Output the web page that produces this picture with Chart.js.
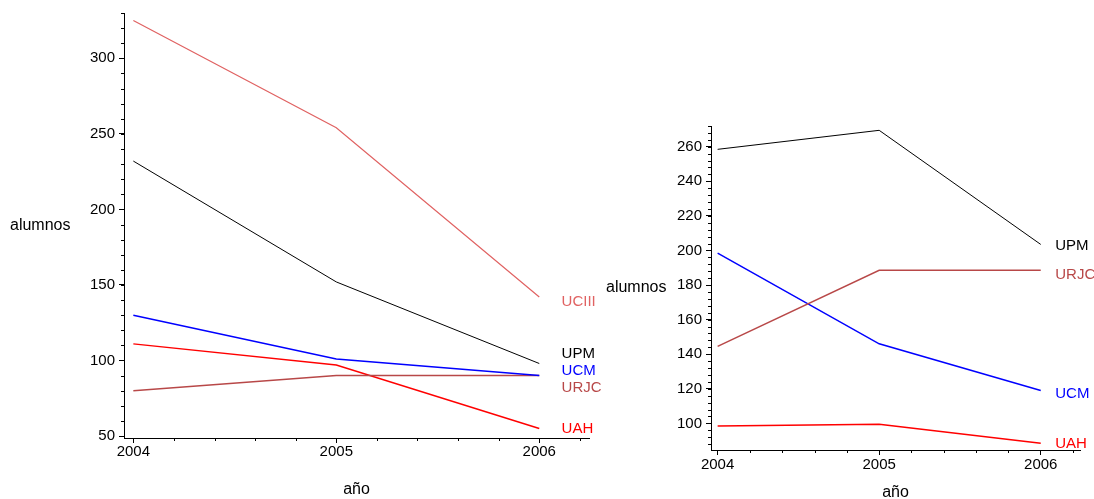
<!DOCTYPE html>
<html>
<head>
<meta charset="utf-8">
<script src="https://cdn.jsdelivr.net/npm/chart.js@4"></script>
<style>
html, body { margin: 0; padding: 0; background: #fff; overflow: hidden; width: 1094px; height: 499px; }
.box { position: absolute; top: 0; }
</style>
</head>
<body>
<div class="box" style="left:600px"><canvas id="rightChart" width="494" height="502"></canvas></div>
<div class="box" style="left:0"><canvas id="leftChart" width="620" height="499"></canvas></div>
<script>
// years on the x axis
const years = [2004, 2005, 2006];

// left chart
const leftNames = ['UCIII', 'UPM', 'UCM', 'URJC', 'UAH'];
const leftUCIII = [325, 254, 142];
const leftUPM = [232, 152, 98];
const leftUCM = [130, 101, 90];
const leftURJC = [80, 90, 90];
const leftUAH = [111, 97, 55];
const leftLabelAt = [139, 104.5, 93, 82, 54.5];

// right chart
const rightNames = ['UPM', 'URJC', 'UCM', 'UAH'];
const rightUPM = [258.5, 269.5, 203.5];
const rightURJC = [144.5, 188.5, 188.5];
const rightUCM = [198.5, 146, 119];
const rightUAH = [98.5, 99.5, 88.5];
const rightLabelAt = [202.7, 185.7, 117.3, 88.4];

const colors = {
    UCIII: '#e06262',
    UPM: '#000000',
    UCM: '#0000ff',
    URJC: '#b84848',
    UAH: '#ff0000'
};
const widths = { UCIII: 1.2, UPM: 1, UCM: 1.5, URJC: 1.5, UAH: 1.5 };

Chart.defaults.font.family = '"Liberation Sans", Arial, sans-serif';
Chart.defaults.color = '#000';

function makeSets(names, values) {
    return names.map((name, i) => ({
        label: name,
        data: years.map((yr, k) => ({ x: yr, y: values[i][k] })),
        borderColor: colors[name],
        borderWidth: widths[name],
        pointRadius: 0,
        tension: 0,
        fill: false
    }));
}

// minor ticks, horizontal y title and the names at line ends
const extras = {
    id: 'extras',
    afterDraw(chart, args, opts) {
        const ctx = chart.ctx;
        const xs = chart.scales.x, ys = chart.scales.y;
        const area = chart.chartArea;
        ctx.save();
        ctx.strokeStyle = '#000';
        ctx.lineWidth = 1;
        ctx.beginPath();
        const nY = Math.floor((ys.max - opts.yMinorFrom) / opts.yMinor);
        for (let i = 0; i <= nY; i++) {
            const v = opts.yMinorFrom + i * opts.yMinor;
            if (v < ys.min) continue;
            const py = Math.round(ys.getPixelForValue(v)) + 0.5;
            ctx.moveTo(area.left - 3, py);
            ctx.lineTo(area.left, py);
        }
        const nX = Math.floor((xs.max - 2004) / 0.2 + 1e-6);
        for (let i = 1; i <= nX; i++) {
            if (i % 5 === 0) continue;
            const px = Math.round(xs.getPixelForValue(2004 + i * 0.2)) + 0.5;
            ctx.moveTo(px, area.bottom);
            ctx.lineTo(px, area.bottom + 3);
        }
        ctx.stroke();

        ctx.textBaseline = 'middle';
        ctx.textAlign = 'left';
        ctx.font = '16px "Liberation Sans", Arial, sans-serif';
        ctx.fillStyle = '#000';
        ctx.fillText('alumnos', opts.titleX, (area.top + area.bottom) / 2);

        ctx.font = '15px "Liberation Sans", Arial, sans-serif';
        opts.names.forEach((name, i) => {
            ctx.fillStyle = colors[name];
            ctx.fillText(name, xs.getPixelForValue(opts.labelYear), ys.getPixelForValue(opts.labelAt[i]));
        });
        ctx.restore();
    }
};

function makeChart(id, sets, cfg) {
    return new Chart(document.getElementById(id), {
        type: 'line',
        data: { datasets: sets },
        plugins: [extras],
        options: {
            responsive: false,
            animation: false,
            layout: { padding: cfg.padding },
            plugins: {
                legend: { display: false },
                tooltip: { enabled: false },
                extras: cfg.extras
            },
            scales: {
                x: {
                    type: 'linear',
                    min: cfg.xMin,
                    max: cfg.xMax,
                    afterFit: s => { s.height = cfg.xHeight; },
                    ticks: {
                        stepSize: 1,
                        includeBounds: false,
                        padding: cfg.xPad,
                        maxRotation: 0,
                        font: { size: 15 },
                        color: '#000',
                        callback: v => String(v)
                    },
                    grid: { drawOnChartArea: false, drawTicks: true, tickLength: 5, color: '#000' },
                    border: { display: true, color: '#000', width: 1 },
                    title: { display: true, text: 'año', font: { size: 16 }, color: '#000', padding: 0 }
                },
                y: {
                    min: cfg.yMin,
                    max: cfg.yMax,
                    afterFit: s => { s.width = cfg.yWidth; },
                    ticks: {
                        stepSize: cfg.yStep,
                        includeBounds: false,
                        padding: 4,
                        font: { size: 15 },
                        color: '#000',
                        callback: v => String(v)
                    },
                    grid: { drawOnChartArea: false, drawTicks: true, tickLength: 5, color: '#000' },
                    border: { display: true, color: '#000', width: 1 }
                }
            }
        }
    });
}

makeChart('leftChart',
    makeSets(leftNames, [leftUCIII, leftUPM, leftUCM, leftURJC, leftUAH]),
    {
        padding: { left: 0, right: 31, top: 9, bottom: 0 },
        xMin: 2003.954, xMax: 2006.245, xHeight: 61, xPad: 0,
        yMin: 48.7, yMax: 330, yStep: 50, yWidth: 124,
        extras: { yMinorFrom: 50, yMinor: 10, titleX: 10, names: leftNames, labelAt: leftLabelAt, labelYear: 2006.11 }
    });

makeChart('rightChart',
    makeSets(rightNames, [rightUPM, rightURJC, rightUCM, rightUAH]),
    {
        padding: { left: 0, right: 14, top: 126, bottom: 0 },
        xMin: 2003.959, xMax: 2006.243, xHeight: 52, xPad: 1,
        yMin: 84.6, yMax: 272, yStep: 20, yWidth: 111,
        extras: { yMinorFrom: 84, yMinor: 4, titleX: 6, names: rightNames, labelAt: rightLabelAt, labelYear: 2006.09 }
    });
</script>
</body>
</html>
